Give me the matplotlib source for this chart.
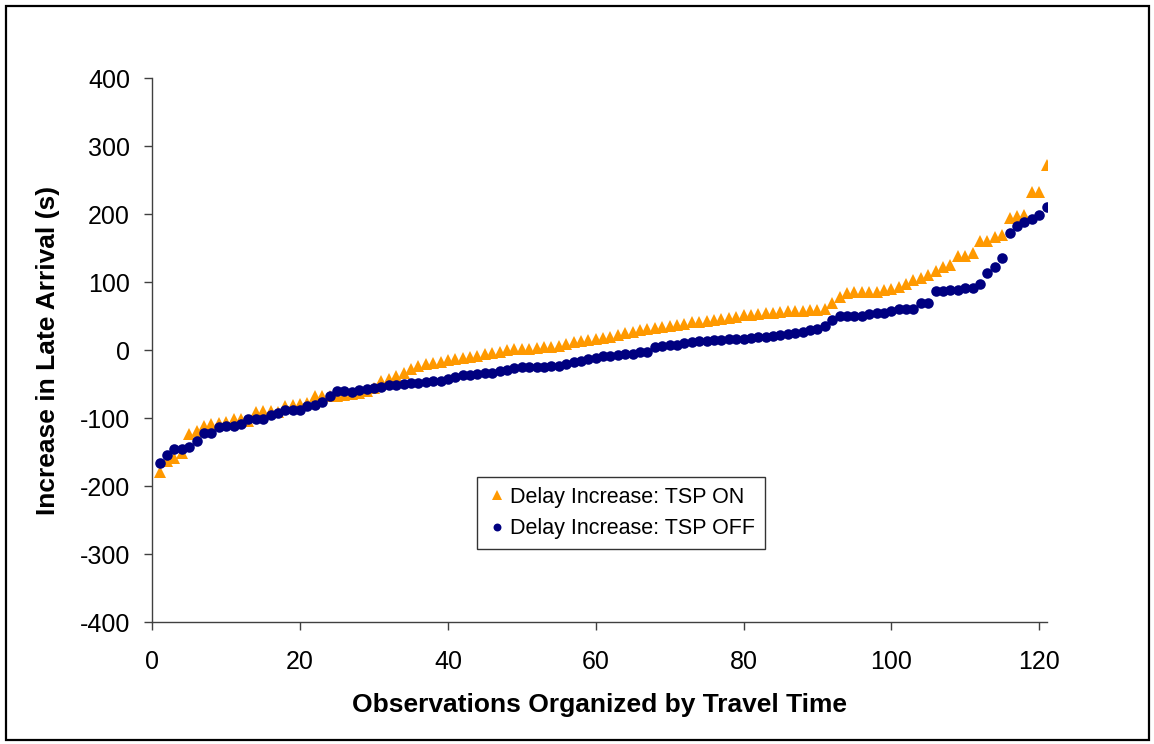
import matplotlib
matplotlib.use("Agg")
import matplotlib.pyplot as plt
from matplotlib.patches import Rectangle

plt.rcParams['font.family'] = ['Liberation Sans', 'DejaVu Sans']
plt.rcParams['axes.unicode_minus'] = False

obs = list(range(1, 122))

tsp_on = [
    -179, -163, -158, -151, -124, -119, -112, -109, -107, -105,
    -102, -101, -104, -91, -90, -90, -91, -82, -81, -79,
    -78, -68, -68, -68, -67, -66, -65, -63, -60, -55,
    -45, -43, -38, -33, -28, -24, -21, -19, -17, -15,
    -13, -12, -10, -8, -6, -4, -2, 0, 1, 1,
    2, 3, 4, 5, 6, 9, 12, 13, 15, 16,
    18, 20, 22, 25, 27, 29, 31, 33, 34, 36,
    37, 39, 41, 42, 43, 44, 46, 47, 49, 51,
    52, 53, 54, 55, 56, 57, 58, 58, 59, 59,
    60, 69, 78, 84, 86, 86, 86, 86, 88, 90,
    93, 98, 103, 106, 110, 117, 122, 125, 139, 139,
    143, 161, 161, 166, 169, 195, 198, 199, 232, 232,
    273,
]

tsp_off = [
    -166, -155, -145, -145, -142, -133, -122, -122, -113, -111,
    -111, -108, -101, -101, -101, -95, -93, -88, -88, -88,
    -82, -80, -77, -67, -60, -60, -62, -59, -57, -55,
    -54, -52, -51, -50, -49, -48, -47, -46, -45, -42,
    -39, -37, -36, -35, -34, -33, -31, -29, -27, -25,
    -25, -25, -25, -24, -23, -21, -18, -16, -13, -11,
    -9, -8, -7, -6, -5, -3, -2, 5, 6, 7,
    8, 10, 12, 13, 14, 15, 15, 16, 17, 17,
    18, 19, 20, 21, 22, 24, 25, 27, 29, 31,
    36, 44, 50, 50, 50, 50, 53, 55, 55, 58,
    60, 60, 60, 69, 70, 87, 87, 88, 88, 92,
    92, 97, 113, 123, 135, 172, 182, 189, 193, 199,
    211,
]

x_ticks = [0, 20, 40, 60, 80, 100, 120]
y_ticks = [-400, -300, -200, -100, 0, 100, 200, 300, 400]

W, H = 1154, 744
fig = plt.figure(figsize=(W / 100, H / 100), dpi=100)
fig.patches.append(Rectangle((6 / W, 4 / H), (W - 11) / W, (H - 10) / H,
                             transform=fig.transFigure, fill=False,
                             edgecolor='black', linewidth=1.6))

ax = fig.add_axes([152.3 / W, 122 / H, 894.2 / W, 543.7 / H])
ax.plot(obs, tsp_on, linestyle='none', marker='^', markersize=9,
        color='#FF9900', markeredgewidth=0, label='Delay Increase: TSP ON', zorder=2)
ax.plot(obs, tsp_off, linestyle='none', marker='o', markersize=7.6,
        color='#000080', markeredgewidth=0, label='Delay Increase: TSP OFF', zorder=3)

ax.set_xlim(0, 121)
ax.set_ylim(-400, 400)
ax.set_xticks(x_ticks)
ax.set_yticks(y_ticks)
for s in ['top', 'right']:
    ax.spines[s].set_visible(False)
for s in ['left', 'bottom']:
    ax.spines[s].set_color('#404040')
    ax.spines[s].set_linewidth(1.0)
ax.tick_params(axis='both', direction='out', length=6, width=1.0,
               color='#404040', labelsize=18)
ax.tick_params(axis='x', pad=14)
ax.tick_params(axis='y', pad=10)

ax.set_xlabel('Observations Organized by Travel Time', fontsize=19,
              fontweight='bold', labelpad=14)
ax.set_ylabel('Increase in Late Arrival (s)', fontsize=19,
              fontweight='bold', labelpad=14)

leg = ax.legend(loc='upper left', bbox_to_anchor=(0.363, 0.2667),
                borderaxespad=0, frameon=True, fancybox=False,
                fontsize=15.5, handletextpad=0.1, handlelength=1.0,
                borderpad=0.45, labelspacing=0.5, markerscale=0.75)
leg.get_frame().set_edgecolor('black')
leg.get_frame().set_linewidth(1.0)

fig.savefig('out.png', dpi=100)
